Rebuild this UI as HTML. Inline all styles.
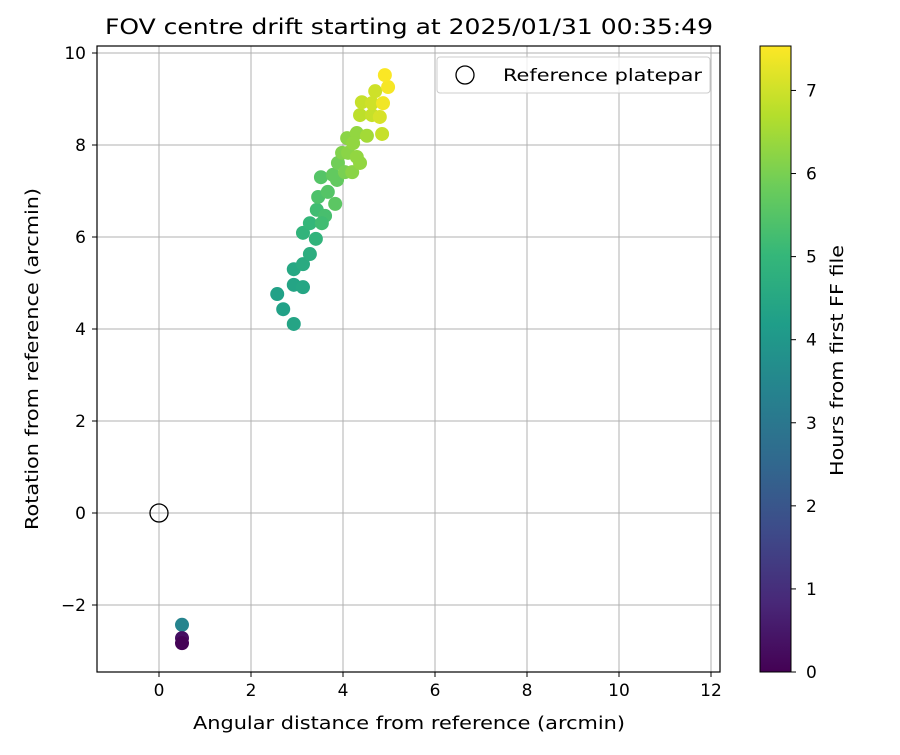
<!DOCTYPE html>
<html><head><meta charset="utf-8"><style>
body{margin:0;background:#fff;font-family:"Liberation Sans","DejaVu Sans",sans-serif}
svg text{font-family:"DejaVu Sans","Liberation Sans",sans-serif;fill:#000}
</style></head><body>
<svg id="chart" width="900" height="750" viewBox="0 0 900 750" xmlns="http://www.w3.org/2000/svg">
<defs><linearGradient id="vir" x1="0" y1="1" x2="0" y2="0"></linearGradient></defs>
<text x="105" y="34" font-size="21" textLength="608" lengthAdjust="spacingAndGlyphs">FOV centre drift starting at 2025/01/31 00:35:49</text>
<g id="grid"></g><g id="pts"></g><g id="axes"></g>
<rect x="97" y="46" width="623" height="626" fill="none" stroke="#000" stroke-width="1.2"/>
<g>
<rect x="437" y="57" width="273" height="36" rx="3" fill="#fff" fill-opacity="0.8" stroke="#ccc"/>
<circle cx="465" cy="75" r="9" fill="none" stroke="#000" stroke-width="1.3"/>
<text x="503" y="81" font-size="17" textLength="199" lengthAdjust="spacingAndGlyphs">Reference platepar</text>
</g>
<text x="193" y="729" font-size="18" textLength="432" lengthAdjust="spacingAndGlyphs">Angular distance from reference (arcmin)</text>
<text transform="translate(38,530) rotate(-90)" font-size="18" textLength="342" lengthAdjust="spacingAndGlyphs">Rotation from reference (arcmin)</text>
<rect x="760" y="46" width="31" height="626" fill="url(#vir)" stroke="#000" stroke-width="1"/>
<g id="cbticks"></g>
<text transform="translate(843,476) rotate(-90)" font-size="18" textLength="231" lengthAdjust="spacingAndGlyphs">Hours from first FF file</text>
</svg>
<script>
const xs=[0.5,0.5,0.5,2.57,2.70,2.93,2.93,3.13,2.93,3.13,3.28,3.13,3.41,3.28,3.43,3.61,3.54,3.46,3.67,3.83,3.52,3.87,3.78,3.89,4.04,3.98,4.20,4.37,4.11,4.30,4.09,4.30,4.22,4.52,4.85,4.37,4.63,4.80,4.41,4.63,4.87,4.70,4.98,4.91];
const ys=[-2.43,-2.72,-2.83,4.76,4.43,4.11,4.96,4.91,5.30,5.41,5.63,6.09,5.96,6.30,6.59,6.46,6.30,6.87,6.98,6.72,7.30,7.24,7.35,7.61,7.41,7.83,7.41,7.61,7.83,7.74,8.15,8.26,8.04,8.20,8.24,8.65,8.65,8.61,8.93,8.91,8.91,9.17,9.26,9.52];
const hours=[3.4,0.3,0.05,4.3,4.3,4.4,4.4,4.45,4.5,4.6,4.7,4.9,4.9,5.0,5.2,5.3,5.2,5.4,5.5,5.6,5.5,5.7,5.7,5.9,6.0,6.1,6.2,6.3,6.2,6.3,6.2,6.3,6.3,6.5,6.9,6.8,6.9,7.1,6.9,7.0,7.4,7.0,7.45,7.5];
const xTicks=[0,2,4,6,8,10,12];
const yTicks=[-2,0,2,4,6,8,10];
const cTicks=[0,1,2,3,4,5,6,7];
const X=v=>159+v*46, Y=v=>513-v*46;
const hMax=7.535, C=h=>672-h/hMax*626;
const stops=[[68,1,84],[72,40,120],[62,74,137],[49,104,142],[38,130,142],[31,158,137],[53,183,121],[109,205,89],[180,222,44],[253,231,37]];
function vir(t){t=Math.max(0,Math.min(1,t))*(stops.length-1);const i=Math.min(Math.floor(t),stops.length-2),f=t-i;const c=stops[i].map((a,k)=>Math.round(a+(stops[i+1][k]-a)*f));return `rgb(${c})`;}
const NS="http://www.w3.org/2000/svg";
function mk(tag,attrs,parent,txt){const e=document.createElementNS(NS,tag);for(const k in attrs)e.setAttribute(k,attrs[k]);if(txt!=null)e.textContent=txt;parent.appendChild(e);return e;}
const g=document.getElementById('grid'),ax=document.getElementById('axes'),pts=document.getElementById('pts'),cb=document.getElementById('cbticks');
const grad=document.getElementById('vir');
stops.forEach((s,i)=>mk('stop',{offset:(i/(stops.length-1)*100)+'%','stop-color':`rgb(${s})`},grad));
xTicks.forEach(v=>{
 const l=mk('line',{x1:X(v),x2:X(v),y1:46,y2:672,stroke:'#b0b0b0','stroke-width':1},g);
 
 
 mk('line',{x1:X(v),x2:X(v),y1:672,y2:677,stroke:'#000'},ax);
 const t=mk('text',{x:X(v),y:696,'font-size':17,'text-anchor':'middle'},ax,String(v));
 
 
});
yTicks.forEach(v=>{
 const l=mk('line',{x1:97,x2:720,y1:Y(v),y2:Y(v),stroke:'#b0b0b0','stroke-width':1},g);
 
 
 mk('line',{x1:92,x2:97,y1:Y(v),y2:Y(v),stroke:'#000'},ax);
 const t=mk('text',{x:86,y:Y(v)+6,'font-size':17,'text-anchor':'end'},ax,v<0?'\u2212'+(-v):String(v));
 
 
});
const ref=mk('circle',{cx:X(0),cy:Y(0),r:9,fill:'none',stroke:'#000','stroke-width':1.3},pts);


xs.forEach((x,i)=>{
 const c=mk('circle',{cx:X(x),cy:Y(ys[i]),r:7,fill:vir(hours[i]/hMax)},pts);
 
 
});
cTicks.forEach(v=>{
 mk('line',{x1:791,x2:796,y1:C(v),y2:C(v),stroke:'#000'},cb);
 const t=mk('text',{x:806,y:C(v)+6,'font-size':17},cb,String(v));
 
 
});
</script>
</body></html>
